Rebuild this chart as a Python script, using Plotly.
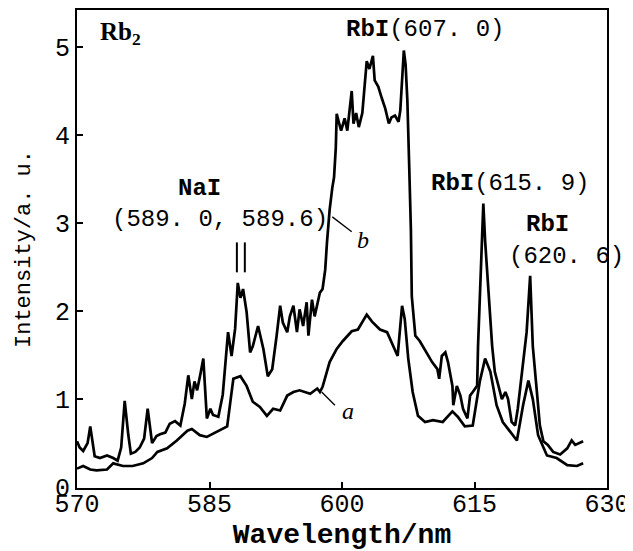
import plotly.graph_objects as go

# Curve b (upper spectrum)
b_wl = [570.0, 570.3, 570.7, 571.2, 571.5, 571.8, 572.0, 572.6, 573.4, 574.1, 574.6, 575.0, 575.4, 575.8,
        576.1, 576.6, 577.1, 577.6, 578.0, 578.5, 579.0, 579.4, 580.0, 580.5, 581.1, 581.7, 582.2, 582.6,
        583.0, 583.3, 583.6, 584.0, 584.3, 584.7, 585.1, 585.4, 586.0, 586.5, 587.1, 587.5, 587.9, 588.2,
        588.5, 588.8, 589.2, 589.6, 589.9, 590.5, 591.1, 591.6, 592.1, 592.6, 593.0, 593.3, 593.8, 594.1,
        594.5, 594.9, 595.2, 595.6, 596.0, 596.2, 596.6, 596.9, 597.5, 597.8, 598.1, 598.3, 598.6, 598.9,
        599.1, 599.3, 599.4, 599.6, 599.9, 600.3, 600.6, 601.1, 601.3, 601.6, 601.9, 602.3, 602.8, 603.1,
        603.5, 603.7, 604.1, 604.5, 604.9, 605.3, 605.6, 606.0, 606.4, 606.6, 606.8, 607.0, 607.2, 607.4,
        607.6, 607.8, 607.9, 608.3, 608.8, 609.6, 610.2, 610.8, 611.0, 611.3, 611.7, 612.0, 612.5, 612.6,
        613.0, 613.4, 613.7, 614.2, 614.5, 614.8, 615.3, 615.4, 615.7, 616.0, 616.2, 616.5, 617.0, 617.3,
        617.7, 618.1, 618.5, 618.8, 619.2, 619.6, 619.9, 620.5, 620.9, 621.3, 621.6, 622.1, 622.4, 622.8,
        623.3, 623.9, 624.7, 625.5, 626.0, 626.4, 626.9, 627.3]
b_int = [0.52, 0.45, 0.41, 0.50, 0.69, 0.45, 0.35, 0.33, 0.36, 0.33, 0.30, 0.45, 0.98, 0.60,
         0.38, 0.40, 0.45, 0.55, 0.89, 0.50, 0.58, 0.60, 0.62, 0.72, 0.75, 0.70, 0.95, 1.27,
         1.00, 1.20, 1.10, 1.30, 1.46, 0.78, 0.89, 0.82, 0.80, 1.05, 1.76, 1.49, 1.80, 2.32,
         2.15, 2.25, 1.99, 1.53, 1.60, 1.83, 1.57, 1.26, 1.34, 1.72, 2.06, 1.87, 1.76, 1.94,
         2.06, 1.76, 2.02, 1.83, 2.10, 1.72, 2.13, 1.94, 2.21, 2.25, 2.47, 2.78, 3.15, 3.40,
         3.52, 3.86, 4.24, 4.16, 4.05, 4.19, 4.05, 4.50, 4.13, 4.25, 4.09, 4.25, 4.84, 4.75,
         4.90, 4.62, 4.55, 4.42, 4.30, 4.13, 4.20, 4.22, 4.15, 4.28, 4.70, 4.96, 4.80, 4.39,
         3.68, 2.92, 2.17, 1.72, 1.66, 1.53, 1.42, 1.34, 1.23, 1.49, 1.53, 1.42, 1.15, 0.93,
         1.15, 1.04, 0.89, 0.78, 1.04, 1.08, 1.15, 1.60, 2.50, 3.22, 2.80, 2.36, 1.60, 1.31,
         1.15, 1.00, 1.08, 1.00, 0.74, 0.70, 0.89, 1.38, 1.76, 2.40, 1.60, 1.04, 0.70, 0.52,
         0.48, 0.40, 0.37, 0.44, 0.53, 0.48, 0.50, 0.52]

# Curve a (lower spectrum)
a_wl = [570.0, 570.7, 571.5, 572.2, 573.4, 574.1, 575.2, 576.3, 577.5, 578.5, 579.1, 580.2, 581.3, 582.5,
        583.0, 583.9, 584.7, 585.8, 587.0, 587.4, 587.7, 588.5, 589.2, 589.9, 590.7, 591.5, 592.2, 593.0,
        593.8, 594.5, 595.2, 596.4, 597.2, 597.5, 597.8, 598.6, 599.4, 600.1, 601.1, 601.8, 602.8, 603.4,
        604.3, 605.1, 605.8, 606.3, 606.8, 607.1, 607.5, 608.0, 608.6, 609.4, 610.3, 611.4, 612.5, 613.1,
        613.9, 614.8, 615.6, 616.2, 616.8, 617.5, 618.2, 619.0, 619.8, 620.5, 621.1, 621.6, 622.2, 623.2,
        624.3, 625.5, 626.6, 627.3]
a_int = [0.21, 0.24, 0.20, 0.19, 0.20, 0.27, 0.24, 0.24, 0.27, 0.33, 0.40, 0.44, 0.53, 0.64,
         0.66, 0.59, 0.57, 0.63, 0.69, 1.00, 1.23, 1.26, 1.15, 0.97, 0.91, 0.81, 0.89, 0.87,
         1.04, 1.08, 1.10, 1.06, 1.12, 1.08, 1.14, 1.42, 1.57, 1.66, 1.77, 1.79, 1.96, 1.88,
         1.79, 1.76, 1.60, 1.49, 2.06, 1.91, 1.46, 1.08, 0.81, 0.74, 0.76, 0.74, 0.86, 0.80,
         0.69, 0.70, 1.20, 1.46, 1.31, 0.93, 0.74, 0.64, 0.53, 0.93, 1.21, 1.00, 0.59, 0.36,
         0.33, 0.25, 0.24, 0.27]

x_ticks = [570, 585, 600, 615, 630]
y_ticks = [0, 1, 2, 3, 4, 5]
nai_lines = [588.1, 589.0]

MONO = "Liberation Mono"
line_style = dict(color="black", width=2.7)

fig = go.Figure()
fig.add_trace(go.Scatter(x=a_wl, y=a_int, mode="lines", line=line_style, name="a"))
fig.add_trace(go.Scatter(x=b_wl, y=b_int, mode="lines", line=line_style, name="b"))

ann_font = dict(family=MONO, size=24, color="black")
annotations = [
    dict(x=572.4, y=5.15, text="<b>Rb<sub>2</sub></b>", xanchor="left",
         font=dict(family="Liberation Serif", size=25, color="black")),
    dict(x=609.4, y=5.2, text="<b>RbI</b>(607. 0)", font=ann_font),
    dict(x=583.9, y=3.39, text="<b>NaI</b>", font=ann_font),
    dict(x=586.2, y=3.04, text="(589. 0, 589.6)", font=ann_font),
    dict(x=619.0, y=3.45, text="<b>RbI</b>(615. 9)", font=ann_font),
    dict(x=623.3, y=2.98, text="<b>RbI</b>", font=ann_font),
    dict(x=625.4, y=2.62, text="(620. 6)", font=ann_font),
    dict(x=602.4, y=2.81, text="<i>b</i>", font=dict(family="Liberation Serif", size=24, color="black")),
    dict(x=600.7, y=0.87, text="<i>a</i>", font=dict(family="Liberation Serif", size=24, color="black")),
]
for a in annotations:
    a.update(xref="x", yref="y", showarrow=False)

shapes = [
    dict(type="line", xref="x", yref="y", x0=598.9, y0=3.07, x1=601.1, y1=2.90,
         line=dict(color="black", width=1.3)),
    dict(type="line", xref="x", yref="y", x0=597.7, y0=1.08, x1=599.2, y1=0.93,
         line=dict(color="black", width=1.3)),
]
for xv in nai_lines:
    shapes.append(dict(type="line", xref="x", yref="y", x0=xv, y0=2.44, x1=xv, y1=2.78,
                       line=dict(color="black", width=2)))

# The page body keeps an 8px default margin, so the figure is sized and
# offset to leave the plot area where the reference has it.
fig.update_layout(
    width=625, height=543,
    margin=dict(l=69, r=26, t=2, b=63),
    paper_bgcolor="white", plot_bgcolor="white",
    showlegend=False,
    annotations=annotations,
    shapes=shapes,
    xaxis=dict(range=[570, 630], tickvals=x_ticks, ticktext=[str(v) for v in x_ticks],
               ticks="inside", ticklen=6, tickwidth=2, tickcolor="black",
               showline=True, linewidth=2.2, linecolor="black", mirror=True,
               showgrid=False, zeroline=False, automargin=False,
               ticklabelstandoff=-8,
               tickfont=dict(family=MONO, size=25, color="black"),
               title=dict(text="<b>Wavelength/nm</b>", standoff=6,
                          font=dict(family=MONO, size=28, color="black"))),
    yaxis=dict(range=[-0.01, 5.42], tickvals=y_ticks, ticktext=[str(v) for v in y_ticks],
               ticks="inside", ticklen=6, tickwidth=2, tickcolor="black",
               showline=True, linewidth=2.2, linecolor="black", mirror=True,
               showgrid=False, zeroline=False, automargin=False,
               tickfont=dict(family=MONO, size=25, color="black"),
               title=dict(text="Intensity/a. u.", standoff=18,
                          font=dict(family=MONO, size=22, color="black"))),
)

fig.write_html("out.html")
